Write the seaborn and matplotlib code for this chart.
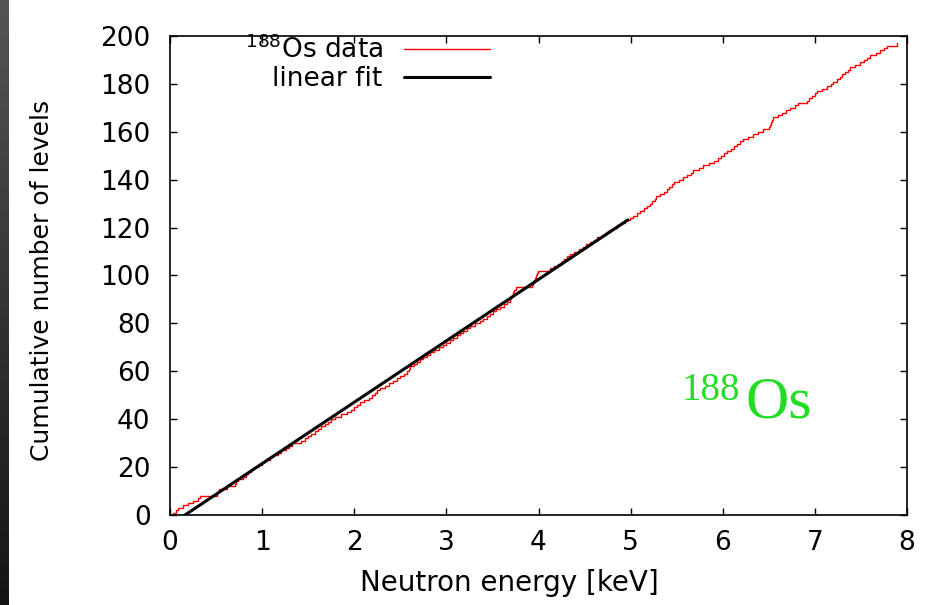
import numpy as np
import pandas as pd
import matplotlib

matplotlib.use("Agg")
import matplotlib.pyplot as plt
import seaborn as sns

# %%
# Resonance (level) energies of 188Os in keV, read off the staircase
level_energies = [
    0.03, 0.06, 0.09, 0.14, 0.20, 0.25, 0.30, 0.33, 0.51, 0.52,
    0.53, 0.62, 0.70, 0.72, 0.74, 0.79, 0.83, 0.85, 0.88, 0.91,
    0.96, 1.00, 1.03, 1.08, 1.12, 1.17, 1.21, 1.26, 1.29, 1.32,
    1.42, 1.47, 1.50, 1.53, 1.57, 1.61, 1.64, 1.68, 1.72, 1.75,
    1.79, 1.86, 1.92, 1.96, 2.00, 2.03, 2.06, 2.11, 2.16, 2.19,
    2.22, 2.25, 2.28, 2.33, 2.38, 2.42, 2.46, 2.50, 2.54, 2.57,
    2.59, 2.61, 2.65, 2.68, 2.71, 2.75, 2.79, 2.82, 2.87, 2.92,
    2.96, 3.00, 3.04, 3.07, 3.11, 3.15, 3.18, 3.22, 3.26, 3.31,
    3.36, 3.40, 3.44, 3.47, 3.51, 3.54, 3.58, 3.62, 3.66, 3.69,
    3.70, 3.71, 3.72, 3.73, 3.76, 3.93, 3.94, 3.95, 3.96, 3.97,
    3.98, 3.99, 4.13, 4.17, 4.21, 4.25, 4.28, 4.31, 4.34, 4.39,
    4.44, 4.48, 4.52, 4.56, 4.60, 4.64, 4.69, 4.73, 4.77, 4.81,
    4.85, 4.90, 4.94, 4.99, 5.03, 5.07, 5.10, 5.14, 5.18, 5.21,
    5.23, 5.26, 5.28, 5.32, 5.36, 5.39, 5.42, 5.45, 5.47, 5.52,
    5.57, 5.61, 5.65, 5.68, 5.74, 5.79, 5.85, 5.90, 5.95, 5.98,
    6.01, 6.05, 6.09, 6.12, 6.15, 6.19, 6.22, 6.27, 6.33, 6.38,
    6.44, 6.50, 6.51, 6.52, 6.53, 6.55, 6.60, 6.64, 6.69, 6.73,
    6.78, 6.82, 6.91, 6.94, 6.97, 7.00, 7.02, 7.08, 7.13, 7.17,
    7.20, 7.24, 7.27, 7.29, 7.33, 7.36, 7.38, 7.44, 7.49, 7.53,
    7.57, 7.60, 7.66, 7.71, 7.75, 7.78, 7.89,
]

# Linear fit parameters (levels per keV, offset) and fitted energy range
fit_slope = 25.63
fit_intercept = -4.18
fit_range = [0.0, 4.97]

x_ticks = [0, 1, 2, 3, 4, 5, 6, 7, 8]
y_ticks = [0, 20, 40, 60, 80, 100, 120, 140, 160, 180, 200]

# %%
# Cumulative number of levels
levels_df = pd.DataFrame({"energy": level_energies})
levels_df["cumulative"] = np.arange(1, len(levels_df) + 1)

fit_df = pd.DataFrame({"energy": fit_range})
fit_df["levels"] = fit_slope * fit_df["energy"] + fit_intercept

# %%
sns.set_style("ticks")
plt.rcParams["font.family"] = ["DejaVu Sans"]
plt.rcParams["text.color"] = "black"
plt.rcParams["axes.labelcolor"] = "black"
plt.rcParams["xtick.color"] = "black"
plt.rcParams["ytick.color"] = "black"

fig = plt.figure(figsize=(9.26, 6.05), dpi=100)
ax = fig.add_axes([0.1836, 0.1488, 0.7959, 0.7917])

# dark strip on the left edge of the slide
strip = fig.add_axes([0, 0, 9 / 926, 1])
strip.imshow(
    np.linspace(0.33, 0.08, 100).reshape(-1, 1),
    cmap="gray", vmin=0, vmax=1, aspect="auto",
)
strip.axis("off")

# Staircase of the data
sns.lineplot(
    data=levels_df, x="energy", y="cumulative", drawstyle="steps-post",
    color="red", lw=1.0, estimator=None, sort=False, ax=ax,
    label="$^{188}$Os data",
)

# Linear fit
sns.lineplot(
    data=fit_df, x="energy", y="levels", color="black", lw=2.2,
    estimator=None, ax=ax, label="linear fit",
)

ax.set_xlim(0, 8)
ax.set_ylim(0, 200)
ax.set_xticks(x_ticks)
ax.set_yticks(y_ticks)
ax.tick_params(
    direction="in", length=5, width=1, top=True, right=True,
    labelsize=19, colors="black",
)
ax.tick_params(axis="x", pad=11)
ax.tick_params(axis="y", pad=14)
for spine in ax.spines.values():
    spine.set_visible(True)
    spine.set_linewidth(1.2)
    spine.set_color("black")

ax.set_xlabel("Neutron energy [keV]", fontsize=20, color="black")
ax.set_ylabel("Cumulative number of levels", fontsize=18, color="black")
ax.xaxis.set_label_coords(0.461, -0.112)
ax.yaxis.set_label_coords(-0.157, 0.489)

# Legend in gnuplot style: text first, sample to the right
leg = ax.legend(
    loc="upper right", bbox_to_anchor=(0.434, 1.0), frameon=False,
    markerfirst=False, fontsize=19, handlelength=3.26, handletextpad=0.8,
    labelspacing=0.05, borderpad=0, borderaxespad=0,
)
for txt in leg.get_texts():
    txt.set_color("black")

# Isotope label
ax.text(6.19, 48, "188", color="#22dd22", fontsize=28, ha="right",
        va="baseline", family="Liberation Serif")
ax.text(6.243, 40.5, "Os", color="#22dd22", fontsize=43, ha="left",
        va="baseline", family="Liberation Serif")

fig.savefig("out.png", dpi=100)
